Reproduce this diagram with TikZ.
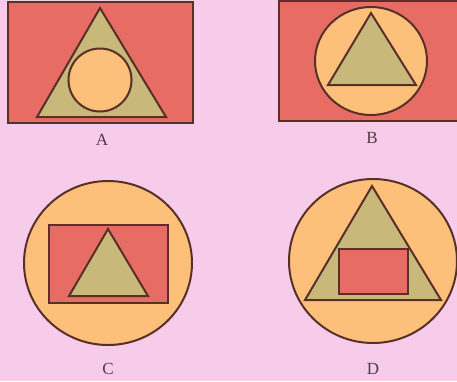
\documentclass[tikz,border=0pt]{standalone}
\usepackage{fontspec}
\setmainfont{Liberation Serif}
\definecolor{bgpink}{RGB}{246,204,234}
\definecolor{redf}{RGB}{230,108,100}
\definecolor{olivef}{RGB}{200,184,122}
\definecolor{orangef}{RGB}{252,192,122}
\definecolor{edgec}{RGB}{88,48,40}
\definecolor{labelc}{RGB}{80,60,70}
\begin{document}
\begin{tikzpicture}[x=1pt,y=-1pt,
  shp/.style={draw=edgec,line width=2pt,line join=miter},
  lbl/.style={font=\fontsize{17}{17}\selectfont,text=labelc}]
\fill[bgpink] (0,0) rectangle (457,381);
\useasboundingbox (0,0) rectangle (457,381);
% A
\filldraw[shp,fill=redf] (8,2) rectangle (193,123);
\filldraw[shp,fill=olivef] (100,8) -- (37,117) -- (166,117) -- cycle;
\filldraw[shp,fill=orangef] (100,80) circle (31.5);
\node[lbl] (la) at (102,140) {A};
% B
\filldraw[shp,fill=redf] (279,1) rectangle (458,121);
\filldraw[shp,fill=orangef] (371,61) ellipse (56 and 54);
\filldraw[shp,fill=olivef] (371,13) -- (328,85) -- (416,85) -- cycle;
\node[lbl] (lb) at (372,138) {B};
% C
\filldraw[shp,fill=orangef] (108,263) ellipse (84 and 82);
\filldraw[shp,fill=redf] (49,225) rectangle (168,303);
\filldraw[shp,fill=olivef] (108,229) -- (69,296) -- (148,296) -- cycle;
\node[lbl] (lc) at (108,369) {C};
% D
\filldraw[shp,fill=orangef] (373,261) ellipse (84 and 82);
\filldraw[shp,fill=olivef] (372,186) -- (305,300) -- (441,300) -- cycle;
\filldraw[shp,fill=redf] (339,249) rectangle (408,294);
\node[lbl] (ld) at (373,369) {D};
\end{tikzpicture}
\end{document}
